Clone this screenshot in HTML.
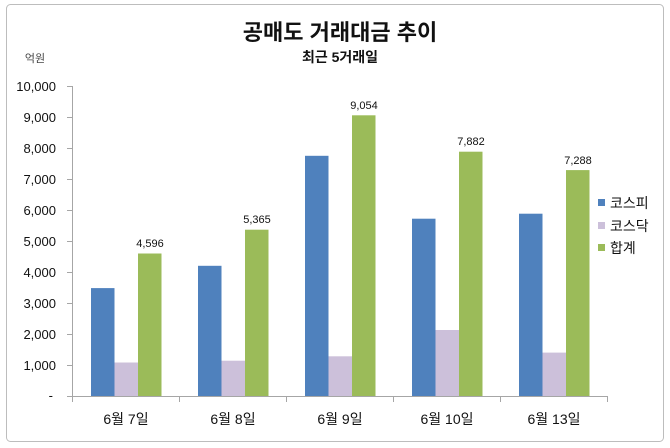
<!DOCTYPE html>
<html><head><meta charset="utf-8"><style>
html,body{margin:0;padding:0;background:#fff;}
svg{display:block;font-family:"Liberation Sans","Noto Sans CJK KR",sans-serif;}
</style></head><body>
<svg width="670" height="448" viewBox="0 0 670 448" xmlns="http://www.w3.org/2000/svg">
<rect x="6.5" y="4.5" width="657" height="437" rx="4" fill="#fff" stroke="#bdbdbd" stroke-width="1"/>
<text x="340" y="40" text-anchor="middle" font-size="22" font-weight="bold" fill="#111">공매도 거래대금 추이</text>
<text x="340" y="62" text-anchor="middle" font-size="14" font-weight="bold" fill="#111">최근 5거래일</text>
<text x="35" y="62" text-anchor="middle" font-size="11" fill="#444">억원</text>
<g font-size="13" fill="#111" text-anchor="end">
<text x="56" y="91">10,000</text>
<text x="56" y="122">9,000</text>
<text x="56" y="153">8,000</text>
<text x="56" y="184">7,000</text>
<text x="56" y="215">6,000</text>
<text x="56" y="246">5,000</text>
<text x="56" y="277">4,000</text>
<text x="56" y="308">3,000</text>
<text x="56" y="339">2,000</text>
<text x="56" y="370">1,000</text>
<text x="53" y="400">-</text>
</g>
<g stroke="#a6a6a6" stroke-width="1">
<line x1="72.5" y1="86" x2="72.5" y2="396"/>
<line x1="67" y1="86.5" x2="72" y2="86.5"/>
<line x1="67" y1="117.5" x2="72" y2="117.5"/>
<line x1="67" y1="148.5" x2="72" y2="148.5"/>
<line x1="67" y1="179.5" x2="72" y2="179.5"/>
<line x1="67" y1="210.5" x2="72" y2="210.5"/>
<line x1="67" y1="241.5" x2="72" y2="241.5"/>
<line x1="67" y1="272.5" x2="72" y2="272.5"/>
<line x1="67" y1="303.5" x2="72" y2="303.5"/>
<line x1="67" y1="334.5" x2="72" y2="334.5"/>
<line x1="67" y1="365.5" x2="72" y2="365.5"/>
<line x1="67" y1="396.5" x2="607" y2="396.5"/>
<line x1="72.5" y1="396" x2="72.5" y2="402"/>
<line x1="179.5" y1="396" x2="179.5" y2="402"/>
<line x1="286.5" y1="396" x2="286.5" y2="402"/>
<line x1="393.5" y1="396" x2="393.5" y2="402"/>
<line x1="500.5" y1="396" x2="500.5" y2="402"/>
<line x1="607.5" y1="396" x2="607.5" y2="402"/>
</g>
<!-- bars: y = 396 - v*0.031 -->
<g fill="#4F81BD">
<rect x="91" y="288.1" width="23.5" height="107.9"/>
<rect x="198" y="265.8" width="23.5" height="130.2"/>
<rect x="305" y="155.8" width="23.5" height="240.2"/>
<rect x="412" y="218.7" width="23.5" height="177.3"/>
<rect x="519" y="213.7" width="23.5" height="182.3"/>
</g>
<g fill="#CCC0DA">
<rect x="114.5" y="362.5" width="23.5" height="33.5"/>
<rect x="221.5" y="360.7" width="23.5" height="35.3"/>
<rect x="328.5" y="356.3" width="23.5" height="39.7"/>
<rect x="435.5" y="330" width="23.5" height="66"/>
<rect x="542.5" y="352.6" width="23.5" height="43.4"/>
</g>
<g fill="#9BBB59">
<rect x="138" y="253.5" width="23.5" height="142.5"/>
<rect x="245" y="229.7" width="23.5" height="166.3"/>
<rect x="352" y="115.3" width="23.5" height="280.7"/>
<rect x="459" y="151.7" width="23.5" height="244.3"/>
<rect x="566" y="170.1" width="23.5" height="225.9"/>
</g>
<g font-size="11" fill="#111" text-anchor="middle">
<text x="150" y="247">4,596</text>
<text x="257" y="223">5,365</text>
<text x="364" y="109">9,054</text>
<text x="471" y="145">7,882</text>
<text x="578" y="164">7,288</text>
</g>
<g font-size="14" fill="#111" text-anchor="middle">
<text x="126" y="424">6월 7일</text>
<text x="233" y="424">6월 8일</text>
<text x="340" y="424">6월 9일</text>
<text x="447" y="424">6월 10일</text>
<text x="554" y="424">6월 13일</text>
</g>
<rect x="598" y="199" width="7" height="7" fill="#4F81BD"/>
<rect x="598" y="222" width="7" height="7" fill="#CCC0DA"/>
<rect x="598" y="244" width="7" height="7" fill="#9BBB59"/>
<g font-size="14" fill="#111">
<text x="610" y="208">코스피</text>
<text x="610" y="231">코스닥</text>
<text x="610" y="253">합계</text>
</g>
</svg>
</body></html>
